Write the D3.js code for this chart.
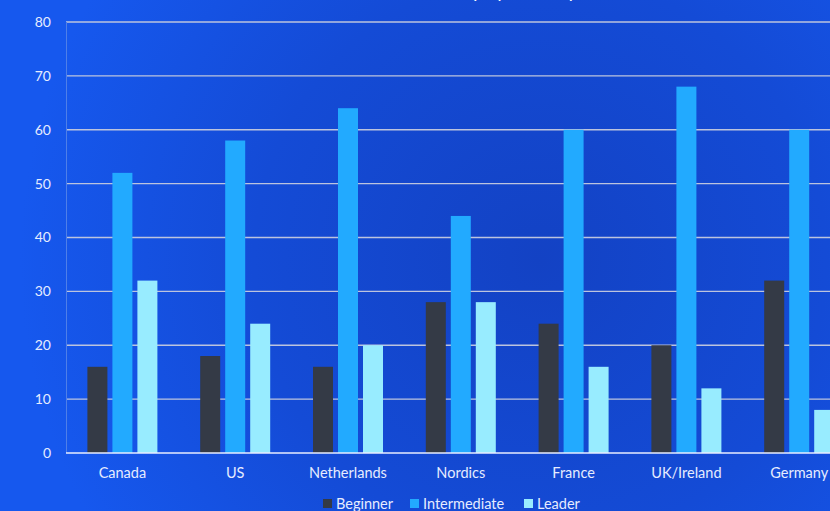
<!DOCTYPE html>
<html>
<head>
<meta charset="utf-8">
<script src="https://cdn.jsdelivr.net/npm/d3@7"></script>
<style>
  html, body { margin: 0; padding: 0; overflow: hidden; }
  svg { display: block; font-family: Lato, "Open Sans", sans-serif; }
</style>
</head>
<body>
<svg id="chart" width="830" height="511"></svg>
<script>
const categories = ["Canada", "US", "Netherlands", "Nordics", "France", "UK/Ireland", "Germany"];
const seriesNames = ["Beginner", "Intermediate", "Leader"];
const beginner = [16, 18, 16, 28, 24, 20, 32];
const intermediate = [52, 58, 64, 44, 60, 68, 60];
const leader = [32, 24, 20, 28, 16, 12, 8];
const yTicks = [0, 10, 20, 30, 40, 50, 60, 70, 80];
const colors = ["#343a46", "#22aaff", "#98ecff"];
const title = "Proficiency by Country";

const seriesValues = [beginner, intermediate, leader];
const W = 830, H = 511;
const svg = d3.select("#chart");

const defs = svg.append("defs");
const grad = defs.append("radialGradient").attr("id", "bg")
  .attr("gradientUnits", "userSpaceOnUse")
  .attr("cx", 540).attr("cy", 260).attr("r", 520);
grad.append("stop").attr("offset", "0%").attr("stop-color", "#1342c4");
grad.append("stop").attr("offset", "55%").attr("stop-color", "#144bd6");
grad.append("stop").attr("offset", "100%").attr("stop-color", "#1658ee");
svg.append("rect").attr("width", W).attr("height", H).attr("fill", "url(#bg)");

const margin = { left: 66, top: 22, bottom: 453 };
const step = 112.8;
const x0 = d3.scaleBand().domain(categories)
  .range([margin.left, margin.left + step * categories.length]).paddingInner(0).paddingOuter(0);
const x1 = d3.scaleBand().domain(seriesNames).range([-35, 35]).paddingInner(0.2).paddingOuter(0);
const y = d3.scaleLinear().domain([0, 80]).range([margin.bottom, margin.top]);

// title (mostly cut off at top, as in the reference)
svg.append("text").attr("x", 485).attr("y", -2).attr("text-anchor", "middle")
  .attr("fill", "#ffffff").attr("font-size", 20).attr("font-style", "italic").text(title);

// gridlines
const grid = svg.append("g");
grid.selectAll("line").data(yTicks.filter(d => d > 0)).join("line")
  .attr("x1", margin.left).attr("x2", W)
  .attr("y1", d => y(d)).attr("y2", d => y(d))
  .attr("stroke", "#bcc4de").attr("stroke-width", 1.4);

// left axis line
svg.append("line").attr("x1", margin.left + 0.5).attr("x2", margin.left + 0.5)
  .attr("y1", y(80)).attr("y2", y(0)).attr("stroke", "#4f7fe8").attr("stroke-width", 1);

// y axis labels
const yAxis = d3.axisLeft(y).tickValues(yTicks).tickSize(0).tickPadding(15);
const yg = svg.append("g").attr("transform", `translate(${margin.left},0)`).call(yAxis);
yg.select(".domain").remove();
yg.selectAll("text").attr("fill", "#e6ecff").attr("font-size", 14)
  .attr("font-family", "Lato, sans-serif");

// bars
const groups = svg.append("g").selectAll("g").data(categories).join("g")
  .attr("transform", d => `translate(${x0(d) + x0.bandwidth() / 2},0)`);
groups.selectAll("rect").data((c, i) => seriesNames.map((s, j) => ({ s, j, v: seriesValues[j][i] })))
  .join("rect")
  .attr("x", d => x1(d.s))
  .attr("width", x1.bandwidth())
  .attr("y", d => y(d.v))
  .attr("height", d => y(0) - y(d.v))
  .attr("fill", d => colors[d.j]);

// baseline
svg.append("line").attr("x1", margin.left).attr("x2", W)
  .attr("y1", y(0)).attr("y2", y(0)).attr("stroke", "#e8eeff").attr("stroke-width", 1.5);

// x axis labels
const xAxis = d3.axisBottom(x0).tickSize(0).tickPadding(15);
const xg = svg.append("g").attr("transform", `translate(0,${y(0)})`).call(xAxis);
xg.select(".domain").remove();
xg.selectAll("text").attr("fill", "#e6ecff").attr("font-size", 14.5)
  .attr("font-family", "Lato, sans-serif");

// legend
const legendX = [323, 410, 524];
const lg = svg.append("g").selectAll("g").data(seriesNames).join("g")
  .attr("transform", (d, i) => `translate(${legendX[i]},499)`);
lg.append("rect").attr("width", 9).attr("height", 9).attr("fill", (d, i) => colors[i]);
lg.append("text").attr("x", 13).attr("y", 9.5).attr("fill", "#e6ecff")
  .attr("font-size", 14.5).text(d => d);
</script>
</body>
</html>
